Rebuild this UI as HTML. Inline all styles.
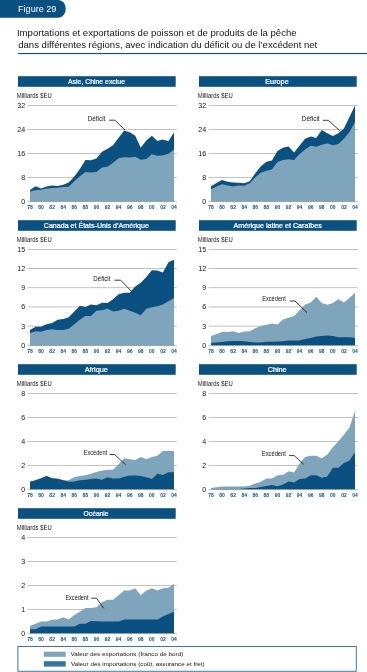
<!DOCTYPE html>
<html><head><meta charset="utf-8"><style>
html,body{margin:0;padding:0;background:#fff;width:367px;height:672px;overflow:hidden}
svg{display:block;font-family:"Liberation Sans", sans-serif}
svg{will-change:transform}
</style></head><body>
<svg width="367" height="672" viewBox="0 0 367 672">
<path d="M0,0 H58.5 A7.3,8.85 0 0 1 65.8,8.85 A7.3,8.85 0 0 1 58.5,17.7 H0 Z" fill="#0a5080"/>
<text x="18" y="11.9" font-size="9.1" fill="#fff" textLength="38.42" lengthAdjust="spacingAndGlyphs">Figure 29</text>
<text x="16.95" y="36.2" font-size="9.9" fill="#151515" textLength="279.64" lengthAdjust="spacingAndGlyphs">Importations et exportations de poisson et de produits de la pêche</text>
<text x="18.25" y="47.7" font-size="9.9" fill="#151515" textLength="298.96" lengthAdjust="spacingAndGlyphs">dans différentes régions, avec indication du déficit ou de l’excédent net</text>
<rect x="18" y="53" width="349" height="1.1" fill="#0a5080"/>
<g transform="translate(0,0)">
<rect x="18" y="76.2" width="157.7" height="10.6" fill="#0a5080"/>
<text x="96.5" y="84.3" font-size="6.8" fill="#fff" text-anchor="middle" stroke="#fff" stroke-width="0.22" textLength="57.02" lengthAdjust="spacingAndGlyphs">Asie, Chine exclue</text>
<text x="16.7" y="97.6" font-size="6.4" fill="#151515" textLength="35.01" lengthAdjust="spacingAndGlyphs">Milliards $EU</text>
<rect x="27.5" y="200.95" width="149.3" height="0.7" fill="#a8a8a8"/>
<text x="25.1" y="203.85" font-size="7.1" fill="#151515" text-anchor="end">0</text>
<rect x="27.5" y="176.98" width="149.3" height="0.7" fill="#a8a8a8"/>
<text x="25.1" y="179.88" font-size="7.1" fill="#151515" text-anchor="end">8</text>
<rect x="27.5" y="153" width="149.3" height="0.7" fill="#a8a8a8"/>
<text x="25.1" y="155.9" font-size="7.1" fill="#151515" text-anchor="end">16</text>
<rect x="27.5" y="129.03" width="149.3" height="0.7" fill="#a8a8a8"/>
<text x="25.1" y="131.93" font-size="7.1" fill="#151515" text-anchor="end">24</text>
<rect x="27.5" y="105.05" width="149.3" height="0.7" fill="#a8a8a8"/>
<text x="25.1" y="107.95" font-size="7.1" fill="#151515" text-anchor="end">32</text>
<polygon points="30,201.3 30,189.91 35.54,186.32 41.08,188.41 46.62,186.62 52.15,185.42 57.69,186.02 63.23,184.82 68.77,182.42 74.31,176.43 79.85,168.93 85.38,159.94 90.92,160.24 96.46,158.44 102,151.85 107.54,148.85 113.08,145.26 118.62,137.77 124.15,130.57 129.69,132.37 135.23,135.67 140.77,147.66 146.31,140.46 151.85,135.67 157.38,141.06 162.92,139.56 168.46,141.36 174,132.37 174,201.3" fill="#0a5080"/>
<polygon points="30,201.3 30,191.56 35.54,190.36 41.08,189.76 46.62,188.56 52.15,187.96 57.69,187.66 63.23,187.06 68.77,186.77 74.31,181.22 79.85,176.13 85.38,171.93 90.92,172.53 96.46,171.93 102,167.44 107.54,166.84 113.08,162.64 118.62,158.15 124.15,157.25 129.69,157.55 135.23,156.65 140.77,159.64 146.31,159.04 151.85,154.25 157.38,155.75 162.92,155.45 168.46,153.65 174,149.75 174,201.3" fill="#7fa5bd"/>
<text x="30" y="209.4" font-size="5" fill="#0c5283" text-anchor="middle" font-weight="bold">78</text>
<text x="41.08" y="209.4" font-size="5" fill="#0c5283" text-anchor="middle" font-weight="bold">80</text>
<text x="52.15" y="209.4" font-size="5" fill="#0c5283" text-anchor="middle" font-weight="bold">82</text>
<text x="63.23" y="209.4" font-size="5" fill="#0c5283" text-anchor="middle" font-weight="bold">84</text>
<text x="74.31" y="209.4" font-size="5" fill="#0c5283" text-anchor="middle" font-weight="bold">86</text>
<text x="85.38" y="209.4" font-size="5" fill="#0c5283" text-anchor="middle" font-weight="bold">88</text>
<text x="96.46" y="209.4" font-size="5" fill="#0c5283" text-anchor="middle" font-weight="bold">90</text>
<text x="107.54" y="209.4" font-size="5" fill="#0c5283" text-anchor="middle" font-weight="bold">92</text>
<text x="118.62" y="209.4" font-size="5" fill="#0c5283" text-anchor="middle" font-weight="bold">94</text>
<text x="129.69" y="209.4" font-size="5" fill="#0c5283" text-anchor="middle" font-weight="bold">96</text>
<text x="140.77" y="209.4" font-size="5" fill="#0c5283" text-anchor="middle" font-weight="bold">98</text>
<text x="151.85" y="209.4" font-size="5" fill="#0c5283" text-anchor="middle" font-weight="bold">00</text>
<text x="162.92" y="209.4" font-size="5" fill="#0c5283" text-anchor="middle" font-weight="bold">02</text>
<text x="174" y="209.4" font-size="5" fill="#0c5283" text-anchor="middle" font-weight="bold">04</text>
<text x="87.65" y="120.6" font-size="6.4" fill="#151515" textLength="17.68" lengthAdjust="spacingAndGlyphs">Déficit</text>
<polyline points="109.2,120.2 114.9,120.2 125,130" fill="none" stroke="#1a1a1a" stroke-width="0.85"/>
</g>
<g transform="translate(181,0)">
<rect x="18" y="76.2" width="157.7" height="10.6" fill="#0a5080"/>
<text x="96" y="84.3" font-size="6.8" fill="#fff" text-anchor="middle" stroke="#fff" stroke-width="0.22" textLength="23.45" lengthAdjust="spacingAndGlyphs">Europe</text>
<text x="16.7" y="97.6" font-size="6.4" fill="#151515" textLength="35.01" lengthAdjust="spacingAndGlyphs">Milliards $EU</text>
<rect x="27.5" y="200.95" width="149.3" height="0.7" fill="#a8a8a8"/>
<text x="25.1" y="203.85" font-size="7.1" fill="#151515" text-anchor="end">0</text>
<rect x="27.5" y="176.98" width="149.3" height="0.7" fill="#a8a8a8"/>
<text x="25.1" y="179.88" font-size="7.1" fill="#151515" text-anchor="end">8</text>
<rect x="27.5" y="153" width="149.3" height="0.7" fill="#a8a8a8"/>
<text x="25.1" y="155.9" font-size="7.1" fill="#151515" text-anchor="end">16</text>
<rect x="27.5" y="129.03" width="149.3" height="0.7" fill="#a8a8a8"/>
<text x="25.1" y="131.93" font-size="7.1" fill="#151515" text-anchor="end">24</text>
<rect x="27.5" y="105.05" width="149.3" height="0.7" fill="#a8a8a8"/>
<text x="25.1" y="107.95" font-size="7.1" fill="#151515" text-anchor="end">32</text>
<polygon points="30,201.3 30,186.32 35.54,183.02 41.08,180.02 46.62,181.82 52.15,182.42 57.69,182.72 63.23,183.32 68.77,181.22 74.31,173.13 79.85,166.24 85.38,161.74 90.92,160.54 96.46,150.95 102,147.66 107.54,146.46 113.08,152.45 118.62,145.56 124.15,138.67 129.69,136.57 135.23,138.07 140.77,129.97 146.31,133.27 151.85,135.97 157.38,133.27 162.92,128.48 168.46,117.09 174,105.4 174,201.3" fill="#0a5080"/>
<polygon points="30,201.3 30,189.31 35.54,186.62 41.08,184.22 46.62,185.42 52.15,186.62 57.69,185.42 63.23,185.72 68.77,183.32 74.31,177.33 79.85,172.83 85.38,170.73 90.92,169.53 96.46,162.04 102,159.94 107.54,159.34 113.08,159.94 118.62,153.95 124.15,149.45 129.69,145.86 135.23,146.76 140.77,144.66 146.31,143.16 151.85,145.26 157.38,144.06 162.92,138.67 168.46,132.07 174,121.88 174,201.3" fill="#7fa5bd"/>
<text x="30" y="209.4" font-size="5" fill="#0c5283" text-anchor="middle" font-weight="bold">78</text>
<text x="41.08" y="209.4" font-size="5" fill="#0c5283" text-anchor="middle" font-weight="bold">80</text>
<text x="52.15" y="209.4" font-size="5" fill="#0c5283" text-anchor="middle" font-weight="bold">82</text>
<text x="63.23" y="209.4" font-size="5" fill="#0c5283" text-anchor="middle" font-weight="bold">84</text>
<text x="74.31" y="209.4" font-size="5" fill="#0c5283" text-anchor="middle" font-weight="bold">86</text>
<text x="85.38" y="209.4" font-size="5" fill="#0c5283" text-anchor="middle" font-weight="bold">88</text>
<text x="96.46" y="209.4" font-size="5" fill="#0c5283" text-anchor="middle" font-weight="bold">90</text>
<text x="107.54" y="209.4" font-size="5" fill="#0c5283" text-anchor="middle" font-weight="bold">92</text>
<text x="118.62" y="209.4" font-size="5" fill="#0c5283" text-anchor="middle" font-weight="bold">94</text>
<text x="129.69" y="209.4" font-size="5" fill="#0c5283" text-anchor="middle" font-weight="bold">96</text>
<text x="140.77" y="209.4" font-size="5" fill="#0c5283" text-anchor="middle" font-weight="bold">98</text>
<text x="151.85" y="209.4" font-size="5" fill="#0c5283" text-anchor="middle" font-weight="bold">00</text>
<text x="162.92" y="209.4" font-size="5" fill="#0c5283" text-anchor="middle" font-weight="bold">02</text>
<text x="174" y="209.4" font-size="5" fill="#0c5283" text-anchor="middle" font-weight="bold">04</text>
<text x="120.75" y="120.6" font-size="6.4" fill="#151515" textLength="17.89" lengthAdjust="spacingAndGlyphs">Déficit</text>
<polyline points="141.9,120.3 147.4,120.3 158.5,130.5" fill="none" stroke="#1a1a1a" stroke-width="0.85"/>
</g>
<g transform="translate(0,144)">
<rect x="18" y="76.2" width="157.7" height="10.6" fill="#0a5080"/>
<text x="96.35" y="84.3" font-size="6.8" fill="#fff" text-anchor="middle" stroke="#fff" stroke-width="0.22" textLength="105.11" lengthAdjust="spacingAndGlyphs">Canada et États-Unis d’Amérique</text>
<text x="16.7" y="97.6" font-size="6.4" fill="#151515" textLength="35.01" lengthAdjust="spacingAndGlyphs">Milliards $EU</text>
<rect x="27.5" y="200.95" width="149.3" height="0.7" fill="#a8a8a8"/>
<text x="25.1" y="203.85" font-size="7.1" fill="#151515" text-anchor="end">0</text>
<rect x="27.5" y="181.77" width="149.3" height="0.7" fill="#a8a8a8"/>
<text x="25.1" y="184.67" font-size="7.1" fill="#151515" text-anchor="end">3</text>
<rect x="27.5" y="162.59" width="149.3" height="0.7" fill="#a8a8a8"/>
<text x="25.1" y="165.49" font-size="7.1" fill="#151515" text-anchor="end">6</text>
<rect x="27.5" y="143.41" width="149.3" height="0.7" fill="#a8a8a8"/>
<text x="25.1" y="146.31" font-size="7.1" fill="#151515" text-anchor="end">9</text>
<rect x="27.5" y="124.23" width="149.3" height="0.7" fill="#a8a8a8"/>
<text x="25.1" y="127.13" font-size="7.1" fill="#151515" text-anchor="end">12</text>
<rect x="27.5" y="105.05" width="149.3" height="0.7" fill="#a8a8a8"/>
<text x="25.1" y="107.95" font-size="7.1" fill="#151515" text-anchor="end">15</text>
<polygon points="30,201.3 30,185.96 35.54,182.76 41.08,182.76 46.62,180.2 52.15,178.92 57.69,175.73 63.23,175.09 68.77,173.17 74.31,167.42 79.85,161.66 85.38,162.94 90.92,160.38 96.46,161.34 102,158.78 107.54,159.1 113.08,155.27 118.62,150.15 124.15,148.87 129.69,148.87 135.23,142.48 140.77,138.65 146.31,132.89 151.85,126.18 157.38,126.5 162.92,128.42 168.46,118.19 174,115.63 174,201.3" fill="#0a5080"/>
<polygon points="30,201.3 30,189.15 35.54,187.23 41.08,187.87 46.62,185.96 52.15,185.32 57.69,185.96 63.23,185.96 68.77,184.68 74.31,180.2 79.85,175.73 85.38,171.89 90.92,171.89 96.46,166.78 102,166.14 107.54,164.86 113.08,167.42 118.62,166.78 124.15,164.86 129.69,166.78 135.23,168.69 140.77,171.25 146.31,164.86 151.85,163.26 157.38,162.3 162.92,160.38 168.46,157.19 174,153.99 174,201.3" fill="#7fa5bd"/>
<text x="30" y="209.4" font-size="5" fill="#0c5283" text-anchor="middle" font-weight="bold">78</text>
<text x="41.08" y="209.4" font-size="5" fill="#0c5283" text-anchor="middle" font-weight="bold">80</text>
<text x="52.15" y="209.4" font-size="5" fill="#0c5283" text-anchor="middle" font-weight="bold">82</text>
<text x="63.23" y="209.4" font-size="5" fill="#0c5283" text-anchor="middle" font-weight="bold">84</text>
<text x="74.31" y="209.4" font-size="5" fill="#0c5283" text-anchor="middle" font-weight="bold">86</text>
<text x="85.38" y="209.4" font-size="5" fill="#0c5283" text-anchor="middle" font-weight="bold">88</text>
<text x="96.46" y="209.4" font-size="5" fill="#0c5283" text-anchor="middle" font-weight="bold">90</text>
<text x="107.54" y="209.4" font-size="5" fill="#0c5283" text-anchor="middle" font-weight="bold">92</text>
<text x="118.62" y="209.4" font-size="5" fill="#0c5283" text-anchor="middle" font-weight="bold">94</text>
<text x="129.69" y="209.4" font-size="5" fill="#0c5283" text-anchor="middle" font-weight="bold">96</text>
<text x="140.77" y="209.4" font-size="5" fill="#0c5283" text-anchor="middle" font-weight="bold">98</text>
<text x="151.85" y="209.4" font-size="5" fill="#0c5283" text-anchor="middle" font-weight="bold">00</text>
<text x="162.92" y="209.4" font-size="5" fill="#0c5283" text-anchor="middle" font-weight="bold">02</text>
<text x="174" y="209.4" font-size="5" fill="#0c5283" text-anchor="middle" font-weight="bold">04</text>
<text x="93.3" y="136.5" font-size="6.4" fill="#151515" textLength="17.15" lengthAdjust="spacingAndGlyphs">Déficit</text>
<polyline points="114.3,136.2 120.7,136.2 132,147.8" fill="none" stroke="#1a1a1a" stroke-width="0.85"/>
</g>
<g transform="translate(181,144)">
<rect x="18" y="76.2" width="157.7" height="10.6" fill="#0a5080"/>
<text x="96.7" y="84.3" font-size="6.8" fill="#fff" text-anchor="middle" stroke="#fff" stroke-width="0.22" textLength="88.38" lengthAdjust="spacingAndGlyphs">Amérique latine et Caraïbes</text>
<text x="16.7" y="97.6" font-size="6.4" fill="#151515" textLength="35.01" lengthAdjust="spacingAndGlyphs">Milliards $EU</text>
<rect x="27.5" y="200.95" width="149.3" height="0.7" fill="#a8a8a8"/>
<text x="25.1" y="203.85" font-size="7.1" fill="#151515" text-anchor="end">0</text>
<rect x="27.5" y="181.77" width="149.3" height="0.7" fill="#a8a8a8"/>
<text x="25.1" y="184.67" font-size="7.1" fill="#151515" text-anchor="end">3</text>
<rect x="27.5" y="162.59" width="149.3" height="0.7" fill="#a8a8a8"/>
<text x="25.1" y="165.49" font-size="7.1" fill="#151515" text-anchor="end">6</text>
<rect x="27.5" y="143.41" width="149.3" height="0.7" fill="#a8a8a8"/>
<text x="25.1" y="146.31" font-size="7.1" fill="#151515" text-anchor="end">9</text>
<rect x="27.5" y="124.23" width="149.3" height="0.7" fill="#a8a8a8"/>
<text x="25.1" y="127.13" font-size="7.1" fill="#151515" text-anchor="end">12</text>
<rect x="27.5" y="105.05" width="149.3" height="0.7" fill="#a8a8a8"/>
<text x="25.1" y="107.95" font-size="7.1" fill="#151515" text-anchor="end">15</text>
<polygon points="30,201.3 30,192.03 35.54,190.11 41.08,188 46.62,188 52.15,187.23 57.69,188.9 63.23,187.55 68.77,187.23 74.31,184.29 79.85,182.12 85.38,180.84 90.92,179.56 96.46,180.52 102,175.41 107.54,173.81 113.08,171.89 118.62,166.46 124.15,160.38 129.69,158.46 135.23,152.71 140.77,159.1 146.31,160.7 151.85,159.1 157.38,155.27 162.92,158.46 168.46,153.99 174,148.87 174,201.3" fill="#7fa5bd"/>
<polygon points="30,201.3 30,199.06 35.54,198.55 41.08,197.91 46.62,197.27 52.15,197.02 57.69,197.02 63.23,197.27 68.77,197.91 74.31,198.42 79.85,198.42 85.38,197.78 90.92,197.78 96.46,197.4 102,197.14 107.54,196.38 113.08,196.38 118.62,196.38 124.15,195.1 129.69,193.95 135.23,192.61 140.77,191.9 146.31,191.39 151.85,191.9 157.38,193.37 162.92,193.18 168.46,193.37 174,193.95 174,201.3" fill="#0a5080"/>
<text x="30" y="209.4" font-size="5" fill="#0c5283" text-anchor="middle" font-weight="bold">78</text>
<text x="41.08" y="209.4" font-size="5" fill="#0c5283" text-anchor="middle" font-weight="bold">80</text>
<text x="52.15" y="209.4" font-size="5" fill="#0c5283" text-anchor="middle" font-weight="bold">82</text>
<text x="63.23" y="209.4" font-size="5" fill="#0c5283" text-anchor="middle" font-weight="bold">84</text>
<text x="74.31" y="209.4" font-size="5" fill="#0c5283" text-anchor="middle" font-weight="bold">86</text>
<text x="85.38" y="209.4" font-size="5" fill="#0c5283" text-anchor="middle" font-weight="bold">88</text>
<text x="96.46" y="209.4" font-size="5" fill="#0c5283" text-anchor="middle" font-weight="bold">90</text>
<text x="107.54" y="209.4" font-size="5" fill="#0c5283" text-anchor="middle" font-weight="bold">92</text>
<text x="118.62" y="209.4" font-size="5" fill="#0c5283" text-anchor="middle" font-weight="bold">94</text>
<text x="129.69" y="209.4" font-size="5" fill="#0c5283" text-anchor="middle" font-weight="bold">96</text>
<text x="140.77" y="209.4" font-size="5" fill="#0c5283" text-anchor="middle" font-weight="bold">98</text>
<text x="151.85" y="209.4" font-size="5" fill="#0c5283" text-anchor="middle" font-weight="bold">00</text>
<text x="162.92" y="209.4" font-size="5" fill="#0c5283" text-anchor="middle" font-weight="bold">02</text>
<text x="174" y="209.4" font-size="5" fill="#0c5283" text-anchor="middle" font-weight="bold">04</text>
<text x="81.15" y="157.3" font-size="6.4" fill="#151515" textLength="23.69" lengthAdjust="spacingAndGlyphs">Excédent</text>
<polyline points="108.7,157 114,157 126,168.6" fill="none" stroke="#1a1a1a" stroke-width="0.85"/>
</g>
<g transform="translate(0,288)">
<rect x="18" y="76.2" width="157.7" height="10.6" fill="#0a5080"/>
<text x="96.3" y="84.3" font-size="6.8" fill="#fff" text-anchor="middle" stroke="#fff" stroke-width="0.22" textLength="23.35" lengthAdjust="spacingAndGlyphs">Afrique</text>
<text x="16.7" y="97.6" font-size="6.4" fill="#151515" textLength="35.01" lengthAdjust="spacingAndGlyphs">Milliards $EU</text>
<rect x="27.5" y="200.95" width="149.3" height="0.7" fill="#a8a8a8"/>
<text x="25.1" y="203.85" font-size="7.1" fill="#151515" text-anchor="end">0</text>
<rect x="27.5" y="176.98" width="149.3" height="0.7" fill="#a8a8a8"/>
<text x="25.1" y="179.88" font-size="7.1" fill="#151515" text-anchor="end">2</text>
<rect x="27.5" y="153" width="149.3" height="0.7" fill="#a8a8a8"/>
<text x="25.1" y="155.9" font-size="7.1" fill="#151515" text-anchor="end">4</text>
<rect x="27.5" y="129.03" width="149.3" height="0.7" fill="#a8a8a8"/>
<text x="25.1" y="131.93" font-size="7.1" fill="#151515" text-anchor="end">6</text>
<rect x="27.5" y="105.05" width="149.3" height="0.7" fill="#a8a8a8"/>
<text x="25.1" y="107.95" font-size="7.1" fill="#151515" text-anchor="end">8</text>
<polygon points="30,201.3 30,193.87 35.54,192.31 41.08,190.15 46.62,188.11 52.15,190.15 57.69,190.75 63.23,192.31 68.77,192.31 74.31,188.95 79.85,188.11 85.38,187.27 90.92,185.72 96.46,183.92 102,182.48 107.54,181.76 113.08,181.76 118.62,176.13 124.15,170.13 129.69,171.33 135.23,171.93 140.77,168.93 146.31,171.33 151.85,168.93 157.38,167.74 162.92,162.94 168.46,162.94 174,162.94 174,201.3" fill="#7fa5bd"/>
<polygon points="30,201.3 30,193.87 35.54,192.31 41.08,190.15 46.62,188.11 52.15,190.15 57.69,190.75 63.23,192.31 68.77,193.87 74.31,193.39 79.85,192.31 85.38,191.83 90.92,191.11 96.46,190.51 102,191.71 107.54,189.31 113.08,190.51 118.62,190.51 124.15,188.71 129.69,187.51 135.23,187.51 140.77,188.11 146.31,189.31 151.85,191.11 157.38,185.72 162.92,186.92 168.46,184.16 174,184.16 174,201.3" fill="#0a5080"/>
<text x="30" y="209.4" font-size="5" fill="#0c5283" text-anchor="middle" font-weight="bold">78</text>
<text x="41.08" y="209.4" font-size="5" fill="#0c5283" text-anchor="middle" font-weight="bold">80</text>
<text x="52.15" y="209.4" font-size="5" fill="#0c5283" text-anchor="middle" font-weight="bold">82</text>
<text x="63.23" y="209.4" font-size="5" fill="#0c5283" text-anchor="middle" font-weight="bold">84</text>
<text x="74.31" y="209.4" font-size="5" fill="#0c5283" text-anchor="middle" font-weight="bold">86</text>
<text x="85.38" y="209.4" font-size="5" fill="#0c5283" text-anchor="middle" font-weight="bold">88</text>
<text x="96.46" y="209.4" font-size="5" fill="#0c5283" text-anchor="middle" font-weight="bold">90</text>
<text x="107.54" y="209.4" font-size="5" fill="#0c5283" text-anchor="middle" font-weight="bold">92</text>
<text x="118.62" y="209.4" font-size="5" fill="#0c5283" text-anchor="middle" font-weight="bold">94</text>
<text x="129.69" y="209.4" font-size="5" fill="#0c5283" text-anchor="middle" font-weight="bold">96</text>
<text x="140.77" y="209.4" font-size="5" fill="#0c5283" text-anchor="middle" font-weight="bold">98</text>
<text x="151.85" y="209.4" font-size="5" fill="#0c5283" text-anchor="middle" font-weight="bold">00</text>
<text x="162.92" y="209.4" font-size="5" fill="#0c5283" text-anchor="middle" font-weight="bold">02</text>
<text x="174" y="209.4" font-size="5" fill="#0c5283" text-anchor="middle" font-weight="bold">04</text>
<text x="83.7" y="167" font-size="6.4" fill="#151515" textLength="23.44" lengthAdjust="spacingAndGlyphs">Excédent</text>
<polyline points="109.6,166.5 114.5,166.5 125.7,176.8" fill="none" stroke="#1a1a1a" stroke-width="0.85"/>
</g>
<g transform="translate(181,288)">
<rect x="18" y="76.2" width="157.7" height="10.6" fill="#0a5080"/>
<text x="96.15" y="84.3" font-size="6.8" fill="#fff" text-anchor="middle" stroke="#fff" stroke-width="0.22" textLength="18.98" lengthAdjust="spacingAndGlyphs">Chine</text>
<text x="16.7" y="97.6" font-size="6.4" fill="#151515" textLength="35.01" lengthAdjust="spacingAndGlyphs">Milliards $EU</text>
<rect x="27.5" y="200.95" width="149.3" height="0.7" fill="#a8a8a8"/>
<text x="25.1" y="203.85" font-size="7.1" fill="#151515" text-anchor="end">0</text>
<rect x="27.5" y="176.98" width="149.3" height="0.7" fill="#a8a8a8"/>
<text x="25.1" y="179.88" font-size="7.1" fill="#151515" text-anchor="end">2</text>
<rect x="27.5" y="153" width="149.3" height="0.7" fill="#a8a8a8"/>
<text x="25.1" y="155.9" font-size="7.1" fill="#151515" text-anchor="end">4</text>
<rect x="27.5" y="129.03" width="149.3" height="0.7" fill="#a8a8a8"/>
<text x="25.1" y="131.93" font-size="7.1" fill="#151515" text-anchor="end">6</text>
<rect x="27.5" y="105.05" width="149.3" height="0.7" fill="#a8a8a8"/>
<text x="25.1" y="107.95" font-size="7.1" fill="#151515" text-anchor="end">8</text>
<polygon points="30,201.3 30,200.1 35.54,199.14 41.08,198.42 46.62,198.42 52.15,198.42 57.69,198.42 63.23,198.42 68.77,197.7 74.31,195.55 79.85,193.75 85.38,190.39 90.92,190.39 96.46,187.15 102,186.92 107.54,183.32 113.08,184.52 118.62,175.53 124.15,168.93 129.69,167.74 135.23,167.74 140.77,170.13 146.31,166.54 151.85,159.34 157.38,153.35 162.92,146.76 168.46,139.56 174,122.78 174,201.3" fill="#7fa5bd"/>
<polygon points="30,201.3 30,201.06 35.54,201.06 41.08,201.06 46.62,201.06 52.15,201.06 57.69,200.94 63.23,200.46 68.77,200.1 74.31,200.1 79.85,199.02 85.38,198.06 90.92,196.98 96.46,198.3 102,196.51 107.54,193.39 113.08,194.59 118.62,190.99 124.15,190.51 129.69,187.27 135.23,187.27 140.77,189.67 146.31,188.47 151.85,179.72 157.38,179.72 162.92,174.93 168.46,172.53 174,164.14 174,201.3" fill="#0a5080"/>
<text x="30" y="209.4" font-size="5" fill="#0c5283" text-anchor="middle" font-weight="bold">78</text>
<text x="41.08" y="209.4" font-size="5" fill="#0c5283" text-anchor="middle" font-weight="bold">80</text>
<text x="52.15" y="209.4" font-size="5" fill="#0c5283" text-anchor="middle" font-weight="bold">82</text>
<text x="63.23" y="209.4" font-size="5" fill="#0c5283" text-anchor="middle" font-weight="bold">84</text>
<text x="74.31" y="209.4" font-size="5" fill="#0c5283" text-anchor="middle" font-weight="bold">86</text>
<text x="85.38" y="209.4" font-size="5" fill="#0c5283" text-anchor="middle" font-weight="bold">88</text>
<text x="96.46" y="209.4" font-size="5" fill="#0c5283" text-anchor="middle" font-weight="bold">90</text>
<text x="107.54" y="209.4" font-size="5" fill="#0c5283" text-anchor="middle" font-weight="bold">92</text>
<text x="118.62" y="209.4" font-size="5" fill="#0c5283" text-anchor="middle" font-weight="bold">94</text>
<text x="129.69" y="209.4" font-size="5" fill="#0c5283" text-anchor="middle" font-weight="bold">96</text>
<text x="140.77" y="209.4" font-size="5" fill="#0c5283" text-anchor="middle" font-weight="bold">98</text>
<text x="151.85" y="209.4" font-size="5" fill="#0c5283" text-anchor="middle" font-weight="bold">00</text>
<text x="162.92" y="209.4" font-size="5" fill="#0c5283" text-anchor="middle" font-weight="bold">02</text>
<text x="174" y="209.4" font-size="5" fill="#0c5283" text-anchor="middle" font-weight="bold">04</text>
<text x="80.8" y="168.2" font-size="6.4" fill="#151515" textLength="24.11" lengthAdjust="spacingAndGlyphs">Excédent</text>
<polyline points="108,167.6 113.2,167.6 122.7,176.3" fill="none" stroke="#1a1a1a" stroke-width="0.85"/>
</g>
<g transform="translate(0,432)">
<rect x="18" y="76.2" width="157.7" height="10.6" fill="#0a5080"/>
<text x="96.1" y="84.3" font-size="6.8" fill="#fff" text-anchor="middle" stroke="#fff" stroke-width="0.22" textLength="25.03" lengthAdjust="spacingAndGlyphs">Océanie</text>
<text x="16.7" y="97.6" font-size="6.4" fill="#151515" textLength="35.01" lengthAdjust="spacingAndGlyphs">Milliards $EU</text>
<rect x="27.5" y="200.95" width="149.3" height="0.7" fill="#a8a8a8"/>
<text x="25.1" y="203.85" font-size="7.1" fill="#151515" text-anchor="end">0</text>
<rect x="27.5" y="176.98" width="149.3" height="0.7" fill="#a8a8a8"/>
<text x="25.1" y="179.88" font-size="7.1" fill="#151515" text-anchor="end">1</text>
<rect x="27.5" y="153" width="149.3" height="0.7" fill="#a8a8a8"/>
<text x="25.1" y="155.9" font-size="7.1" fill="#151515" text-anchor="end">2</text>
<rect x="27.5" y="129.03" width="149.3" height="0.7" fill="#a8a8a8"/>
<text x="25.1" y="131.93" font-size="7.1" fill="#151515" text-anchor="end">3</text>
<rect x="27.5" y="105.05" width="149.3" height="0.7" fill="#a8a8a8"/>
<text x="25.1" y="107.95" font-size="7.1" fill="#151515" text-anchor="end">4</text>
<polygon points="30,201.3 30,194.11 35.54,191.71 41.08,189.55 46.62,189.55 52.15,187.87 57.69,187.39 63.23,185.24 68.77,187.39 74.31,183.08 79.85,179.72 85.38,175.89 90.92,175.89 96.46,175.17 102,170.13 107.54,167.74 113.08,167.74 118.62,163.18 124.15,158.62 129.69,158.62 135.23,156.23 140.77,163.18 146.31,158.62 151.85,156.23 157.38,158.62 162.92,156.23 168.46,155.75 174,151.67 174,201.3" fill="#7fa5bd"/>
<polygon points="30,201.3 30,197.22 35.54,197.22 41.08,194.59 46.62,194.59 52.15,194.59 57.69,194.59 63.23,194.59 68.77,194.59 74.31,194.59 79.85,191.71 85.38,191.71 90.92,189.07 96.46,189.31 102,189.55 107.54,189.55 113.08,189.55 118.62,189.55 124.15,187.39 129.69,187.39 135.23,187.39 140.77,187.39 146.31,187.39 151.85,187.39 157.38,187.39 162.92,184.52 168.46,182.12 174,179.72 174,201.3" fill="#0a5080"/>
<text x="30" y="209.4" font-size="5" fill="#0c5283" text-anchor="middle" font-weight="bold">78</text>
<text x="41.08" y="209.4" font-size="5" fill="#0c5283" text-anchor="middle" font-weight="bold">80</text>
<text x="52.15" y="209.4" font-size="5" fill="#0c5283" text-anchor="middle" font-weight="bold">82</text>
<text x="63.23" y="209.4" font-size="5" fill="#0c5283" text-anchor="middle" font-weight="bold">84</text>
<text x="74.31" y="209.4" font-size="5" fill="#0c5283" text-anchor="middle" font-weight="bold">86</text>
<text x="85.38" y="209.4" font-size="5" fill="#0c5283" text-anchor="middle" font-weight="bold">88</text>
<text x="96.46" y="209.4" font-size="5" fill="#0c5283" text-anchor="middle" font-weight="bold">90</text>
<text x="107.54" y="209.4" font-size="5" fill="#0c5283" text-anchor="middle" font-weight="bold">92</text>
<text x="118.62" y="209.4" font-size="5" fill="#0c5283" text-anchor="middle" font-weight="bold">94</text>
<text x="129.69" y="209.4" font-size="5" fill="#0c5283" text-anchor="middle" font-weight="bold">96</text>
<text x="140.77" y="209.4" font-size="5" fill="#0c5283" text-anchor="middle" font-weight="bold">98</text>
<text x="151.85" y="209.4" font-size="5" fill="#0c5283" text-anchor="middle" font-weight="bold">00</text>
<text x="162.92" y="209.4" font-size="5" fill="#0c5283" text-anchor="middle" font-weight="bold">02</text>
<text x="174" y="209.4" font-size="5" fill="#0c5283" text-anchor="middle" font-weight="bold">04</text>
<text x="65.4" y="167.9" font-size="6.4" fill="#151515" textLength="23.11" lengthAdjust="spacingAndGlyphs">Excédent</text>
<polyline points="91.3,166.2 96.5,166.2 103.9,176.4" fill="none" stroke="#1a1a1a" stroke-width="0.85"/>
</g>
<rect x="17.9" y="646.5" width="338.4" height="24.8" fill="none" stroke="#3c78a4" stroke-width="1"/>
<rect x="43.8" y="651.7" width="21.9" height="5.1" fill="#7fa5bd"/>
<rect x="43.8" y="661.2" width="21.9" height="5.4" fill="#3674a0"/>
<text x="70.5" y="656" font-size="6.1" fill="#151515" textLength="112.81" lengthAdjust="spacingAndGlyphs">Valeur des exportations (franco de bord)</text>
<text x="70.95" y="665.6" font-size="6.1" fill="#151515" textLength="133.7" lengthAdjust="spacingAndGlyphs">Valeur des importations (coût, assurance et fret)</text>
</svg>
</body></html>
